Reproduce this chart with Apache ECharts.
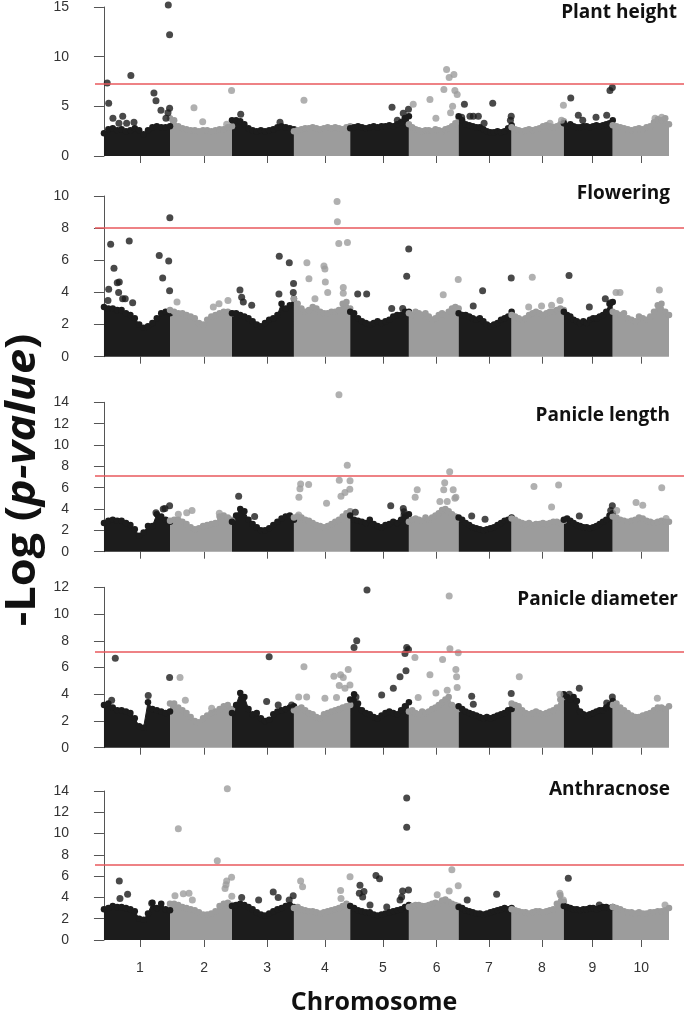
<!DOCTYPE html>
<html><head><meta charset="utf-8">
<script src="https://cdn.jsdelivr.net/npm/echarts@6/dist/echarts.min.js"></script>
<style>html,body{margin:0;padding:0;background:#fff}#c{width:685px;height:1019px}</style>
</head><body><div id="c"></div>
<script>
// ---------------- data ----------------
const chromNames = ['1','2','3','4','5','6','7','8','9','10'];
const chromLen = [81,76,76,69,72,61,65,64,60,69];          // Mb
const tickPos = [44,123,200,271,342,408,472,537,599,659];   // genome position of chromosome ticks
const traits = ['Plant height','Flowering','Panicle length','Panicle diameter','Anthracnose'];
const yMax = [15,10,14,12,14];
const yStep = [5,2,2,2,2];
const thresholds = [7.25,8,7.1,7.2,7.1];

// upper envelope of the dense SNP cloud, 16 samples per chromosome
const phEnv = [
 [2.3,2.7,2.8,2.6,2.7,2.5,2.6,2.8,2.6,2.2,2.6,2.9,3.0,2.9,2.9,3.0],
 [3.8,3.6,3.0,2.8,2.7,2.6,2.6,2.5,2.6,2.6,2.5,2.6,2.7,2.7,2.9,3.0],
 [3.6,3.6,3.5,3.2,2.8,2.6,2.5,2.6,2.5,2.6,2.7,2.9,3.0,2.9,2.8,2.7],
 [2.5,2.6,2.7,2.8,2.8,2.9,2.8,2.7,2.8,2.9,2.8,2.9,2.8,2.7,2.9,3.0],
 [2.8,2.9,3.0,2.9,2.8,2.9,3.0,2.9,3.0,3.0,3.1,3.0,3.2,3.4,3.8,4.0],
 [3.2,2.9,2.7,2.6,2.5,2.6,2.6,2.5,2.7,2.6,2.5,2.7,2.8,3.0,3.3,3.8],
 [4.0,3.6,3.2,3.1,3.0,2.9,2.9,2.7,2.5,2.4,2.4,2.5,2.4,2.5,2.8,3.1],
 [2.9,2.7,2.6,2.5,2.6,2.7,2.6,2.7,2.8,3.0,3.1,3.0,2.9,3.0,3.2,3.5],
 [3.3,3.0,3.2,3.0,2.9,2.9,3.0,3.0,2.9,3.0,3.1,3.0,3.1,3.2,3.3,3.6],
 [3.1,3.0,2.9,2.8,2.7,2.6,2.7,2.8,2.7,2.9,3.0,3.4,3.7,3.6,3.8,3.2]
];
const flEnv = [
 [3.1,3.0,3.0,2.9,2.9,2.7,2.6,2.4,2.0,1.8,1.9,2.1,2.4,2.7,2.8,2.7],
 [2.9,2.8,2.7,2.7,2.6,2.5,2.4,2.1,2.0,2.3,2.5,2.6,2.7,2.8,2.8,2.7],
 [2.7,2.7,2.6,2.5,2.4,2.2,2.0,1.9,2.1,2.3,2.4,2.6,3.3,3.0,3.2,3.6],
 [3.6,3.3,3.0,2.8,2.9,3.1,3.0,2.8,2.7,2.7,2.8,2.8,2.9,3.3,3.4,3.0],
 [2.8,2.7,2.4,2.2,2.1,2.0,2.1,2.2,2.1,2.2,2.3,2.5,2.6,2.6,2.8,2.8],
 [2.7,2.6,2.8,2.7,2.6,2.7,2.5,2.3,2.4,2.6,2.7,2.6,2.8,3.0,3.1,3.0],
 [2.7,2.6,2.6,2.5,2.4,2.3,2.4,2.2,2.0,1.9,2.0,2.1,2.3,2.4,2.5,2.8],
 [2.6,2.5,2.4,2.3,2.4,2.6,2.7,2.8,2.7,2.6,2.7,2.8,2.8,2.9,3.0,2.9],
 [2.8,2.6,2.5,2.3,2.2,2.1,2.2,2.1,2.3,2.4,2.4,2.5,2.6,2.8,3.3,3.4],
 [2.8,2.7,2.6,2.7,2.4,2.3,2.2,2.5,2.4,2.3,2.5,2.8,3.2,3.3,2.8,2.6]
];
const plEnv = [
 [2.7,2.9,3.0,2.9,2.9,2.7,2.5,2.1,1.5,1.8,2.4,2.4,3.5,3.3,3.0,2.8],
 [2.9,3.0,3.0,2.8,2.6,2.3,2.1,2.2,2.4,2.5,2.6,2.7,3.3,3.4,3.2,3.0],
 [2.8,3.4,4.0,3.8,3.0,2.6,2.3,2.0,2.0,2.2,2.5,2.8,3.1,3.3,3.4,3.0],
 [3.2,3.3,3.2,3.0,2.9,2.7,2.5,2.4,2.3,2.4,2.6,2.8,3.0,3.3,3.6,3.8],
 [3.4,3.0,2.9,2.8,2.7,3.0,2.6,2.4,2.3,2.5,2.6,2.8,2.7,3.0,3.3,3.5],
 [2.8,3.0,3.1,3.0,2.9,3.2,3.0,3.2,3.4,3.6,3.9,4.0,3.8,3.5,3.3,3.1],
 [3.2,3.0,2.7,2.5,2.3,2.2,2.1,2.0,2.1,2.2,2.3,2.5,2.7,2.9,3.0,3.2],
 [3.1,3.0,2.8,2.7,2.6,2.7,2.5,2.6,2.6,2.7,2.6,2.7,2.8,2.8,2.7,2.9],
 [3.0,3.1,2.9,2.7,2.5,2.4,2.3,2.3,2.2,2.3,2.4,2.6,2.8,3.0,3.4,3.6],
 [3.3,3.2,3.0,2.9,2.8,2.9,3.0,3.2,3.1,2.9,2.8,2.7,2.8,2.9,2.8,2.8]
];
const pdEnv = [
 [3.2,3.3,3.0,2.8,2.8,2.7,2.6,2.2,1.6,1.5,3.4,2.9,2.8,2.7,2.6,2.7],
 [3.3,3.3,3.0,2.8,2.6,2.3,2.0,1.9,2.2,2.4,2.6,2.7,2.9,3.1,3.2,2.9],
 [2.6,3.2,4.1,3.8,2.9,2.5,2.6,2.2,2.0,2.1,2.5,2.7,2.8,2.9,3.0,3.1],
 [2.8,2.9,3.0,2.8,2.6,2.5,2.3,2.2,2.5,2.6,2.7,2.8,2.9,3.0,3.1,3.2],
 [3.6,4.0,3.3,2.8,2.6,2.5,2.3,2.2,2.4,2.6,2.7,2.6,2.5,2.8,3.1,3.4],
 [2.7,2.8,2.6,2.5,2.7,2.6,2.7,2.9,3.0,3.2,3.4,3.6,3.8,3.2,3.0,2.9],
 [3.1,2.9,2.7,2.6,2.5,2.4,2.3,2.2,2.3,2.2,2.3,2.4,2.5,2.6,2.8,2.9],
 [3.3,3.2,3.1,2.8,2.6,2.5,2.6,2.7,2.6,2.5,2.6,2.7,2.8,3.0,3.6,3.8],
 [4.0,3.8,3.6,3.8,3.5,2.7,2.5,2.4,2.5,2.6,2.7,2.8,2.8,3.0,3.2,3.5],
 [3.2,3.3,3.0,2.8,2.6,2.4,2.3,2.3,2.4,2.5,2.6,2.8,3.0,3.0,2.9,3.1]
];
const anEnv = [
 [2.9,3.0,3.2,3.1,3.1,3.0,2.9,2.7,2.0,1.9,2.5,3.5,3.0,3.4,2.9,2.8],
 [3.4,3.4,3.3,3.1,3.0,2.9,2.8,2.6,2.4,2.4,2.5,2.7,3.2,3.4,3.5,3.3],
 [3.2,3.3,3.4,3.3,3.1,2.9,2.6,2.4,2.3,2.5,2.7,2.9,3.0,3.2,3.3,3.1],
 [3.0,3.1,2.9,2.8,2.7,2.7,2.6,2.5,2.6,2.7,2.8,2.9,3.0,3.2,3.4,3.2],
 [3.2,3.0,2.8,2.7,2.6,2.6,2.4,2.3,2.4,2.5,2.6,2.7,2.8,2.9,3.1,3.3],
 [3.1,3.2,3.3,3.3,3.2,3.2,3.3,3.4,3.5,3.4,3.7,3.8,3.6,3.4,3.3,3.2],
 [3.1,3.0,2.8,2.7,2.6,2.5,2.5,2.4,2.5,2.6,2.7,2.8,2.9,3.0,2.9,3.0],
 [2.9,2.8,2.7,2.6,2.6,2.5,2.6,2.7,2.7,2.6,2.7,2.8,2.9,3.4,4.2,3.6],
 [3.2,3.1,3.0,2.9,2.9,2.8,2.9,2.9,3.0,3.0,2.9,3.0,3.1,3.1,3.0,3.1],
 [3.1,3.0,2.9,2.7,2.6,2.6,2.5,2.6,2.5,2.5,2.6,2.6,2.7,2.7,2.8,3.0]
];

// individual SNPs standing above the cloud: [chromosome, position (Mb), -log10 p]
const phHits = [
 [1,4,7.36],[1,5.8,5.3],[1,11,3.8],[1,18.4,3.3],[1,23,4.0],[1,27.8,3.3],[1,36.8,3.4],[1,33,8.1],[1,61.3,6.35],[1,63.8,5.55],[1,69.9,4.6],[1,78.9,15.2],[1,80.5,12.2],[1,80.5,4.8],[1,78.5,4.35],[1,76,3.8],
 [2,29.4,4.85],[2,40.1,3.45],[2,75.5,6.6],[2,69.5,3.2],
 [3,10.7,4.2],[3,58.9,3.4],
 [4,12.3,5.6],
 [5,51.3,4.9],[5,65.1,4.3],[5,67.2,3.8],[5,57.8,3.6],[5,71.5,4.7],
 [6,5.3,5.2],[6,25.8,5.7],[6,33.1,3.8],[6,42.9,6.7],[6,46.2,8.7],[6,49.4,7.9],[6,55.2,8.2],[6,56.4,6.6],[6,59.2,6.2],[6,53.6,5.0],[6,51.1,4.35],
 [7,7.1,5.2],[7,3.7,3.9],[7,13.9,4.0],[7,18,4.0],[7,24.2,4.0],[7,31.2,3.3],[7,41.8,5.3],[7,64.5,4.0],[7,63.5,3.6],
 [8,63.5,5.1],[8,61.2,3.6],[8,47,3.3],
 [9,8.5,5.85],[9,17.8,4.1],[9,23.2,3.6],[9,39.5,3.9],[9,52.6,4.1],[9,56.6,6.6],[9,59.5,6.9],
 [10,60.1,3.9],[10,51.9,3.8]
];
const flHits = [
 [1,4.9,3.5],[1,5.8,4.2],[1,8.2,7.0],[1,12.3,5.5],[1,16.3,4.6],[1,18.8,4.65],[1,18,4.0],[1,22.9,3.6],[1,26.1,3.6],[1,31,7.2],[1,35.2,3.35],[1,67.8,6.3],[1,72,4.9],[1,79.4,5.95],[1,80.5,4.1],[1,80.8,8.65],
 [2,8.6,3.4],[2,60.1,3.3],[2,71.1,3.5],[2,53.1,3.1],
 [3,9.8,4.15],[3,11.9,3.7],[3,13.9,3.4],[3,24.2,3.2],[3,58,6.25],[3,70.3,5.85],[3,75.5,4.55],[3,57.6,3.9],[3,75.2,4.0],
 [4,15.9,5.85],[4,18.4,4.85],[4,36.8,5.65],[4,38,5.45],[4,38.5,4.65],[4,41.4,4.0],[4,52.9,9.65],[4,53.3,8.4],[4,55,7.05],[4,65.6,7.1],[4,60.5,4.3],[4,60.5,3.95],[4,25.8,3.6],
 [5,9.2,3.9],[5,20.2,3.9],[5,71.8,6.7],[5,69.3,5.0],[5,50.9,3.0],[5,64.4,3.0],
 [6,42.1,3.85],[6,60.5,4.8],
 [7,17.9,3.15],[7,29.4,4.1],[7,64.5,4.9],
 [8,25.3,4.95],[8,59.3,3.5],[8,20.9,3.1],[8,36.7,3.15],[8,49,3.2],
 [9,6.4,5.05],[9,50.9,3.6],[9,31.3,3.1],[9,57.5,3.35],
 [10,4,4.0],[10,8.9,4.0],[10,57.2,4.15]
];
const plHits = [
 [1,63.8,3.65],[1,72.7,4.0],[1,74.8,4.05],[1,80.5,4.3],
 [2,10.2,3.5],[2,20.5,3.65],[2,27,3.85],[2,60.5,3.6],
 [3,8.2,5.2],[3,27.8,3.3],
 [4,5.8,3.45],[4,6.1,5.1],[4,7.4,5.9],[4,8.2,6.35],[4,18,6.3],[4,40,4.55],[4,55.2,14.7],[4,55.6,6.7],[4,57.7,5.2],[4,62.6,5.55],[4,65.4,8.1],[4,68.5,5.85],[4,68.8,6.65],
 [5,6.3,3.7],[5,49.7,4.3],[5,65.1,4.05],[5,66,3.45],[5,66,3.75],
 [6,10.2,5.8],[6,7.7,5.1],[6,50,7.5],[6,43.9,6.45],[6,42.7,5.8],[6,54.3,5.8],[6,57.6,5.1],[6,38,4.7],[6,47,4.7],[6,56.4,5.0],
 [7,16,3.35],[7,32.4,3.05],
 [8,27.4,6.1],[8,49,4.2],[8,57.6,6.25],
 [9,19,3.35],[9,59.5,4.3],[9,57.5,3.85],
 [10,28.6,4.6],[10,36.8,4.35],[10,60.1,6.0],[10,65.4,3.1],[10,4.9,3.85]
];
const pdHits = [
 [1,13.9,6.7],[1,9.4,3.55],[1,54.3,3.9],[1,80.5,5.25],
 [2,12.3,5.25],[2,18.8,3.55],[2,51.1,2.95],
 [3,45.6,6.8],[3,42.5,3.45],[3,56.7,3.2],[3,73.2,3.2],
 [4,12.3,6.05],[4,5.8,3.8],[4,15.6,3.8],[4,38,3.7],[4,52.2,3.75],[4,49,5.35],[4,57.2,5.45],[4,60.5,5.25],[4,66.6,5.85],[4,55.6,4.65],[4,62.6,4.45],[4,68.7,4.7],
 [5,4.7,7.5],[5,8,8.0],[5,20.6,11.8],[5,7.1,3.8],[5,38.6,3.95],[5,52.9,4.45],[5,61.1,5.3],[5,68.4,5.75],[5,67.2,7.05],[5,69.3,7.5],[5,71.5,7.35],
 [6,7.4,6.75],[6,25.8,5.45],[6,11.4,3.75],[6,33.1,4.1],[6,41.3,6.6],[6,49.4,11.35],[6,50.3,7.4],[6,57.6,5.85],[6,58.5,5.3],[6,60.5,7.1],[6,59.2,4.5],[6,47,4.3],
 [7,16,3.85],[7,64.5,4.05],[7,18,3.25],
 [8,9.4,5.3],[8,59.1,4.0],
 [9,6.7,4.0],[9,19,4.45],[9,59.5,3.8],[9,52.6,3.35],
 [10,54.7,3.7]
];
const anHits = [
 [1,18.8,5.55],[1,19.6,3.9],[1,29,4.3],[1,58.5,3.45],
 [2,6.1,4.15],[2,10.2,10.45],[2,16.3,4.35],[2,23.3,4.4],[2,27.4,3.75],[2,58,7.45],[2,70.3,14.2],[2,69.5,5.55],[2,68.7,5.2],[2,67.5,4.85],[2,75.5,5.9],[2,75.8,4.1],
 [3,11.9,4.0],[3,32.7,3.75],[3,50.6,4.5],[3,56.7,4.0],[3,70.2,3.75],[3,75.1,4.15],
 [4,8.2,5.55],[4,10.6,5.0],[4,57.2,4.65],[4,57.7,3.9],[4,68.8,5.95],
 [5,12,5.15],[5,11.2,4.4],[5,16.9,4.55],[5,15.3,4.05],[5,31.6,6.05],[5,36,5.75],[5,24.3,3.3],[5,64.3,4.6],[5,71.5,4.7],[5,69.3,13.35],[5,69.3,10.6],[5,63.1,4.05],[5,61.1,3.75],[5,44.8,3.1],
 [6,52.7,6.6],[6,60.5,5.1],[6,34.7,4.25],[6,49.4,4.6],
 [7,10.5,3.75],[7,46.6,4.3],
 [8,59.1,4.4],[8,63.4,3.75],
 [9,5.5,5.8],[9,43.5,3.3],
 [10,64.1,3.3]
];

// ---------------- layout / styling ----------------
const envs = [phEnv, flEnv, plEnv, pdEnv, anEnv];
const hits = [phHits, flHits, plHits, pdHits, anHits];
const gridBox = [[6.7,149.3],[196,160.7],[402.3,149.4],[587.3,160.4],[791,149]];
const titleRight = [677,670,670,678,670];
const titleY = [13,194,416,600,790];
const BLACK = '#1c1c1c', GRAY = '#9c9c9c', AXIS = '#555', RED = '#e9585c';
const colorOf = c => (c % 2 === 0 ? BLACK : GRAY);

const cumStart = [];
chromLen.reduce((acc, l, i) => { cumStart[i] = acc; return acc + l; }, 0);
const total = chromLen.reduce((a, b) => a + b, 0);
const XMIN = -15.9, XMAX = total + 18.4;

const grids = [], xAxes = [], yAxes = [], series = [], graphics = [];
gridBox.forEach((g, k) => {
  grids.push({ left: 91, right: 1, top: g[0], height: g[1] });
  xAxes.push({
    gridIndex: k, type: 'value', min: XMIN, max: XMAX, offset: 2,
    axisLine: { show: false }, splitLine: { show: false },
    axisTick: { show: true, customValues: tickPos, length: 7, lineStyle: { color: AXIS, width: 1 } },
    axisLabel: { show: k === 4, customValues: tickPos, margin: 19,
      formatter: v => chromNames[tickPos.indexOf(v)],
      fontSize: 14, color: '#333', fontFamily: 'Liberation Sans' }
  });
  yAxes.push({
    gridIndex: k, type: 'value', min: 0, max: yMax[k], interval: yStep[k],
    axisLine: { show: true, lineStyle: { color: AXIS, width: 1 } },
    axisTick: { show: true, length: 10, lineStyle: { color: AXIS, width: 1 } },
    axisLabel: { margin: 22, fontSize: 14, color: '#333', fontFamily: 'Liberation Sans' },
    splitLine: { show: false }
  });
  envs[k].forEach((arr, c) => {
    const n = arr.length;
    series.push({
      type: 'line', xAxisIndex: k, yAxisIndex: k, silent: true, z: 2,
      data: arr.map((v, i) => [cumStart[c] + chromLen[c] * i / (n - 1), v]),
      symbol: 'circle', symbolSize: 6.5, showSymbol: true, showAllSymbol: true,
      lineStyle: { width: 1, color: colorOf(c) },
      itemStyle: { color: colorOf(c), borderWidth: 0 },
      areaStyle: { color: colorOf(c), opacity: 1 }
    });
  });
  series.push({
    type: 'scatter', xAxisIndex: k, yAxisIndex: k, silent: true, z: 3, clip: false,
    data: hits[k].map(h => [cumStart[h[0] - 1] + h[1], h[2], h[0] - 1]),
    symbolSize: 7,
    itemStyle: { color: p => colorOf(p.data[2]) },
    markLine: {
      silent: true, symbol: 'none', label: { show: false },
      lineStyle: { color: RED, width: 1.6, type: 'solid', opacity: 1 },
      data: [[{ coord: [-11, thresholds[k]] }, { coord: [XMAX, thresholds[k]] }]]
    }
  });
  graphics.push({
    type: 'text', x: titleRight[k], y: titleY[k],
    style: { text: traits[k], textAlign: 'right', textVerticalAlign: 'middle',
      fontFamily: 'Open Sans', fontWeight: 'bold', fontSize: 19, fill: '#111' }
  });
});

graphics.push({
  type: 'text', x: 374, y: 1003,
  style: { text: 'Chromosome', textAlign: 'center', textVerticalAlign: 'middle',
    fontFamily: 'Open Sans', fontWeight: 'bold', fontSize: 25, fill: '#111' }
});
graphics.push({
  type: 'text', x: 23, y: 480, rotation: Math.PI / 2, scaleX: 1.1,
  style: { text: '{a|-Log (}{b|p-value}{a|)}', textAlign: 'center', textVerticalAlign: 'middle',
    rich: {
      a: { fontFamily: 'Open Sans', fontWeight: 'bold', fontSize: 41, fill: '#111', color: '#111' },
      b: { fontFamily: 'Open Sans', fontWeight: 'bold', fontStyle: 'italic', fontSize: 41, fill: '#111', color: '#111' }
    } }
});

const chart = echarts.init(document.getElementById('c'), null, { renderer: 'canvas' });
chart.setOption({
  animation: false, backgroundColor: '#fff',
  grid: grids, xAxis: xAxes, yAxis: yAxes, series: series, graphic: graphics
});
</script></body></html>
